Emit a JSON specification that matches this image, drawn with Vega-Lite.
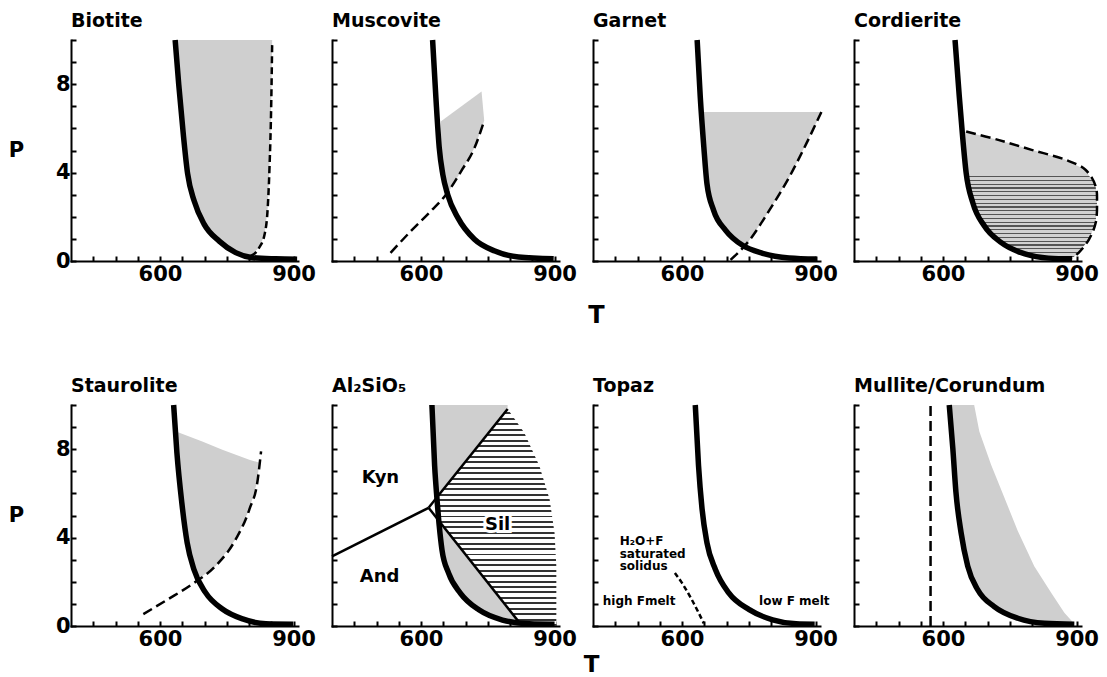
{
"$schema":"https://vega.github.io/schema/vega-lite/v6.json",
"padding":{"left":8,"top":12,"right":10,"bottom":0},
"datasets":{"d":[
{"p":"Bio","k":"sol","i":1,"T":634,"P":10},{"p":"Bio","k":"sol","i":2,"T":642,"P":8},{"p":"Bio","k":"sol","i":3,"T":652,"P":5.8},{"p":"Bio","k":"sol","i":4,"T":662,"P":3.95},{"p":"Bio","k":"sol","i":5,"T":677,"P":2.7},{"p":"Bio","k":"sol","i":6,"T":699,"P":1.67},{"p":"Bio","k":"sol","i":7,"T":733,"P":0.9},{"p":"Bio","k":"sol","i":8,"T":770,"P":0.38},{"p":"Bio","k":"sol","i":9,"T":808,"P":0.15},{"p":"Bio","k":"sol","i":10,"T":860,"P":0.1},{"p":"Bio","k":"sol","i":11,"T":908,"P":0.08},
{"p":"Bio","k":"dash","i":1,"T":804,"P":0.23},{"p":"Bio","k":"dash","i":2,"T":823,"P":0.61},{"p":"Bio","k":"dash","i":3,"T":835,"P":1.21},{"p":"Bio","k":"dash","i":4,"T":842,"P":2.42},{"p":"Bio","k":"dash","i":5,"T":846,"P":4.24},{"p":"Bio","k":"dash","i":6,"T":850,"P":7.27},{"p":"Bio","k":"dash","i":7,"T":852,"P":9.92},
{"p":"Bio","k":"stip","i":1,"T":636,"P":10},{"p":"Bio","k":"stip","i":2,"T":642,"P":8},{"p":"Bio","k":"stip","i":3,"T":652,"P":5.8},{"p":"Bio","k":"stip","i":4,"T":662,"P":3.95},{"p":"Bio","k":"stip","i":5,"T":677,"P":2.7},{"p":"Bio","k":"stip","i":6,"T":699,"P":1.67},{"p":"Bio","k":"stip","i":7,"T":733,"P":0.9},{"p":"Bio","k":"stip","i":8,"T":770,"P":0.38},{"p":"Bio","k":"stip","i":9,"T":800,"P":0.2},{"p":"Bio","k":"stip","i":10,"T":823,"P":0.61},{"p":"Bio","k":"stip","i":11,"T":835,"P":1.21},{"p":"Bio","k":"stip","i":12,"T":842,"P":2.42},{"p":"Bio","k":"stip","i":13,"T":846,"P":4.24},{"p":"Bio","k":"stip","i":14,"T":850,"P":7.27},{"p":"Bio","k":"stip","i":15,"T":852,"P":10},

{"p":"Mus","k":"sol","i":1,"T":626,"P":10},{"p":"Mus","k":"sol","i":2,"T":633.5,"P":7.37},{"p":"Mus","k":"sol","i":3,"T":641,"P":5.11},{"p":"Mus","k":"sol","i":4,"T":649,"P":3.91},{"p":"Mus","k":"sol","i":5,"T":660,"P":3.0},{"p":"Mus","k":"sol","i":6,"T":683,"P":1.95},{"p":"Mus","k":"sol","i":7,"T":720,"P":0.98},{"p":"Mus","k":"sol","i":8,"T":766,"P":0.45},{"p":"Mus","k":"sol","i":9,"T":819,"P":0.18},{"p":"Mus","k":"sol","i":10,"T":898,"P":0.1},
{"p":"Mus","k":"dash","i":1,"T":531.5,"P":0.37},{"p":"Mus","k":"dash","i":2,"T":577,"P":1.35},{"p":"Mus","k":"dash","i":3,"T":622,"P":2.26},{"p":"Mus","k":"dash","i":4,"T":656,"P":3.0},{"p":"Mus","k":"dash","i":5,"T":690,"P":4.06},{"p":"Mus","k":"dash","i":6,"T":720,"P":5.11},{"p":"Mus","k":"dash","i":7,"T":742,"P":6.35},
{"p":"Mus","k":"stip","i":1,"T":645,"P":6.32},{"p":"Mus","k":"stip","i":2,"T":736,"P":7.67},{"p":"Mus","k":"stip","i":3,"T":742,"P":6.35},{"p":"Mus","k":"stip","i":4,"T":720,"P":5.11},{"p":"Mus","k":"stip","i":5,"T":690,"P":4.06},{"p":"Mus","k":"stip","i":6,"T":658,"P":3.0},{"p":"Mus","k":"stip","i":7,"T":649,"P":3.91},{"p":"Mus","k":"stip","i":8,"T":643,"P":5.11},

{"p":"Gar","k":"sol","i":1,"T":634,"P":10},{"p":"Gar","k":"sol","i":2,"T":641,"P":7.42},{"p":"Gar","k":"sol","i":3,"T":649,"P":5.16},{"p":"Gar","k":"sol","i":4,"T":656,"P":3.5},{"p":"Gar","k":"sol","i":5,"T":671,"P":2.29},{"p":"Gar","k":"sol","i":6,"T":698,"P":1.39},{"p":"Gar","k":"sol","i":7,"T":736,"P":0.71},{"p":"Gar","k":"sol","i":8,"T":781,"P":0.35},{"p":"Gar","k":"sol","i":9,"T":841,"P":0.14},{"p":"Gar","k":"sol","i":10,"T":902,"P":0.09},
{"p":"Gar","k":"dash","i":1,"T":709,"P":0.05},{"p":"Gar","k":"dash","i":2,"T":751,"P":0.93},{"p":"Gar","k":"dash","i":3,"T":796,"P":2.29},{"p":"Gar","k":"dash","i":4,"T":841,"P":3.8},{"p":"Gar","k":"dash","i":5,"T":879,"P":5.3},{"p":"Gar","k":"dash","i":6,"T":913,"P":6.74},
{"p":"Gar","k":"stip","i":1,"T":645,"P":6.74},{"p":"Gar","k":"stip","i":2,"T":649,"P":5.16},{"p":"Gar","k":"stip","i":3,"T":656,"P":3.5},{"p":"Gar","k":"stip","i":4,"T":671,"P":2.29},{"p":"Gar","k":"stip","i":5,"T":698,"P":1.39},{"p":"Gar","k":"stip","i":6,"T":745,"P":0.72},{"p":"Gar","k":"stip","i":7,"T":751,"P":0.93},{"p":"Gar","k":"stip","i":8,"T":796,"P":2.29},{"p":"Gar","k":"stip","i":9,"T":841,"P":3.8},{"p":"Gar","k":"stip","i":10,"T":879,"P":5.3},{"p":"Gar","k":"stip","i":11,"T":913,"P":6.74},

{"p":"Cor","k":"sol","i":1,"T":627,"P":10},{"p":"Cor","k":"sol","i":2,"T":636.6,"P":7.43},{"p":"Cor","k":"sol","i":3,"T":644,"P":5.63},{"p":"Cor","k":"sol","i":4,"T":652,"P":3.98},{"p":"Cor","k":"sol","i":5,"T":667,"P":2.63},{"p":"Cor","k":"sol","i":6,"T":693,"P":1.58},{"p":"Cor","k":"sol","i":7,"T":731,"P":0.83},{"p":"Cor","k":"sol","i":8,"T":784,"P":0.32},{"p":"Cor","k":"sol","i":9,"T":837,"P":0.13},{"p":"Cor","k":"sol","i":10,"T":890,"P":0.1},
{"p":"Cor","k":"dash","i":1,"T":652,"P":5.86},{"p":"Cor","k":"dash","i":2,"T":724,"P":5.48},{"p":"Cor","k":"dash","i":3,"T":799,"P":5.03},{"p":"Cor","k":"dash","i":4,"T":875,"P":4.58},{"p":"Cor","k":"dash","i":5,"T":920,"P":4.13},{"p":"Cor","k":"dash","i":6,"T":943,"P":3.38},{"p":"Cor","k":"dash","i":7,"T":946,"P":2.63},{"p":"Cor","k":"dash","i":8,"T":943,"P":1.73},{"p":"Cor","k":"dash","i":9,"T":928,"P":0.98},{"p":"Cor","k":"dash","i":10,"T":905,"P":0.38},{"p":"Cor","k":"dash","i":11,"T":890,"P":0.12},
{"p":"Cor","k":"grad","i":1,"T":650,"P":5.86},{"p":"Cor","k":"grad","i":2,"T":724,"P":5.48},{"p":"Cor","k":"grad","i":3,"T":799,"P":5.03},{"p":"Cor","k":"grad","i":4,"T":875,"P":4.58},{"p":"Cor","k":"grad","i":5,"T":920,"P":4.13},{"p":"Cor","k":"grad","i":6,"T":943,"P":3.38},{"p":"Cor","k":"grad","i":7,"T":946,"P":2.63},{"p":"Cor","k":"grad","i":8,"T":943,"P":1.73},{"p":"Cor","k":"grad","i":9,"T":928,"P":0.98},{"p":"Cor","k":"grad","i":10,"T":905,"P":0.38},{"p":"Cor","k":"grad","i":11,"T":890,"P":0.12},{"p":"Cor","k":"grad","i":12,"T":837,"P":0.13},{"p":"Cor","k":"grad","i":13,"T":784,"P":0.32},{"p":"Cor","k":"grad","i":14,"T":731,"P":0.83},{"p":"Cor","k":"grad","i":15,"T":693,"P":1.58},{"p":"Cor","k":"grad","i":16,"T":667,"P":2.63},{"p":"Cor","k":"grad","i":17,"T":652,"P":3.98},{"p":"Cor","k":"grad","i":18,"T":646,"P":5.0},

{"p":"Sta","k":"sol","i":1,"T":630.6,"P":10},{"p":"Sta","k":"sol","i":2,"T":638,"P":7.82},{"p":"Sta","k":"sol","i":3,"T":649,"P":5.57},{"p":"Sta","k":"sol","i":4,"T":661,"P":3.77},{"p":"Sta","k":"sol","i":5,"T":676,"P":2.57},{"p":"Sta","k":"sol","i":6,"T":702,"P":1.52},{"p":"Sta","k":"sol","i":7,"T":740,"P":0.77},{"p":"Sta","k":"sol","i":8,"T":785.5,"P":0.32},{"p":"Sta","k":"sol","i":9,"T":838,"P":0.1},{"p":"Sta","k":"sol","i":10,"T":899,"P":0.08},
{"p":"Sta","k":"dash","i":1,"T":562.5,"P":0.54},{"p":"Sta","k":"dash","i":2,"T":619,"P":1.22},{"p":"Sta","k":"dash","i":3,"T":672,"P":1.89},{"p":"Sta","k":"dash","i":4,"T":725,"P":2.72},{"p":"Sta","k":"dash","i":5,"T":770,"P":3.92},{"p":"Sta","k":"dash","i":6,"T":800.6,"P":5.27},{"p":"Sta","k":"dash","i":7,"T":819.5,"P":6.62},{"p":"Sta","k":"dash","i":8,"T":827,"P":7.9},
{"p":"Sta","k":"stip","i":1,"T":636,"P":8.8},{"p":"Sta","k":"stip","i":2,"T":695,"P":8.35},{"p":"Sta","k":"stip","i":3,"T":740,"P":7.97},{"p":"Sta","k":"stip","i":4,"T":800.6,"P":7.52},{"p":"Sta","k":"stip","i":5,"T":822,"P":7.4},{"p":"Sta","k":"stip","i":6,"T":819.5,"P":6.62},{"p":"Sta","k":"stip","i":7,"T":800.6,"P":5.27},{"p":"Sta","k":"stip","i":8,"T":770,"P":3.92},{"p":"Sta","k":"stip","i":9,"T":725,"P":2.72},{"p":"Sta","k":"stip","i":10,"T":691,"P":2.19},{"p":"Sta","k":"stip","i":11,"T":676,"P":2.57},{"p":"Sta","k":"stip","i":12,"T":661,"P":3.77},{"p":"Sta","k":"stip","i":13,"T":649,"P":5.57},{"p":"Sta","k":"stip","i":14,"T":638,"P":7.82},

{"p":"Al","k":"sol","i":1,"T":624.5,"P":10},{"p":"Al","k":"sol","i":2,"T":630.6,"P":7.24},{"p":"Al","k":"sol","i":3,"T":636,"P":5.72},{"p":"Al","k":"sol","i":4,"T":641,"P":4.52},{"p":"Al","k":"sol","i":5,"T":647,"P":3.46},{"p":"Al","k":"sol","i":6,"T":662,"P":2.39},{"p":"Al","k":"sol","i":7,"T":688.7,"P":1.48},{"p":"Al","k":"sol","i":8,"T":730,"P":0.73},{"p":"Al","k":"sol","i":9,"T":783,"P":0.27},{"p":"Al","k":"sol","i":10,"T":843.7,"P":0.1},{"p":"Al","k":"sol","i":11,"T":900,"P":0.08},
{"p":"Al","k":"line","g":1,"i":1,"T":400,"P":3.15},{"p":"Al","k":"line","g":1,"i":2,"T":617,"P":5.35},{"p":"Al","k":"line","g":2,"i":1,"T":617,"P":5.35},{"p":"Al","k":"line","g":2,"i":2,"T":794.6,"P":9.82},{"p":"Al","k":"line","g":3,"i":1,"T":617,"P":5.35},{"p":"Al","k":"line","g":3,"i":2,"T":825,"P":0.05},
{"p":"Al","k":"stip","g":1,"i":1,"T":626,"P":10},{"p":"Al","k":"stip","g":1,"i":2,"T":630.6,"P":7.24},{"p":"Al","k":"stip","g":1,"i":3,"T":636,"P":5.83},{"p":"Al","k":"stip","g":1,"i":4,"T":794.6,"P":9.82},{"p":"Al","k":"stip","g":1,"i":5,"T":794.6,"P":10},
{"p":"Al","k":"stip","g":2,"i":1,"T":643,"P":4.7},{"p":"Al","k":"stip","g":2,"i":2,"T":647,"P":3.46},{"p":"Al","k":"stip","g":2,"i":3,"T":662,"P":2.39},{"p":"Al","k":"stip","g":2,"i":4,"T":688.7,"P":1.48},{"p":"Al","k":"stip","g":2,"i":5,"T":730,"P":0.73},{"p":"Al","k":"stip","g":2,"i":6,"T":783,"P":0.27},{"p":"Al","k":"stip","g":2,"i":7,"T":822,"P":0.1},
{"p":"Al","k":"hatch","i":1,"T":794.6,"P":9.82},{"p":"Al","k":"hatch","i":2,"T":636,"P":5.83},{"p":"Al","k":"hatch","i":3,"T":643,"P":4.69},{"p":"Al","k":"hatch","i":4,"T":825,"P":0.05},{"p":"Al","k":"hatch","i":5,"T":825,"P":0},{"p":"Al","k":"hatch","i":6,"T":904,"P":0},{"p":"Al","k":"hatch","i":7,"T":904,"P":1.18},{"p":"Al","k":"hatch","i":8,"T":904,"P":2.7},{"p":"Al","k":"hatch","i":9,"T":900,"P":4.21},{"p":"Al","k":"hatch","i":10,"T":889,"P":5.72},{"p":"Al","k":"hatch","i":11,"T":866,"P":7.24},{"p":"Al","k":"hatch","i":12,"T":832,"P":8.75},
{"p":"Al","k":"lab","t":"Kyn","T":509,"P":6.48},{"p":"Al","k":"lab","t":"And","T":507,"P":2.01},{"p":"Al","k":"lab","t":"Sil","T":772,"P":4.36},

{"p":"Top","k":"sol","i":1,"T":629.8,"P":10},{"p":"Top","k":"sol","i":2,"T":637,"P":7.28},{"p":"Top","k":"sol","i":3,"T":645,"P":5.3},{"p":"Top","k":"sol","i":4,"T":656,"P":3.77},{"p":"Top","k":"sol","i":5,"T":675,"P":2.56},{"p":"Top","k":"sol","i":6,"T":705,"P":1.5},{"p":"Top","k":"sol","i":7,"T":751,"P":0.74},{"p":"Top","k":"sol","i":8,"T":803.6,"P":0.28},{"p":"Top","k":"sol","i":9,"T":856.5,"P":0.1},{"p":"Top","k":"sol","i":10,"T":898,"P":0.08},
{"p":"Top","k":"dash","i":1,"T":584,"P":2.4},{"p":"Top","k":"dash","i":2,"T":599.5,"P":1.96},{"p":"Top","k":"dash","i":3,"T":622,"P":1.19},{"p":"Top","k":"dash","i":4,"T":649,"P":0.12},
{"p":"Top","k":"lab","t":"H₂O+F","T":460,"P":3.66},{"p":"Top","k":"lab","t":"saturated","T":460,"P":3.09},{"p":"Top","k":"lab","t":"solidus","T":460,"P":2.52},{"p":"Top","k":"lab","t":"high Fmelt","T":422,"P":0.96},{"p":"Top","k":"lab","t":"low F melt","T":773,"P":0.96},

{"p":"Mul","k":"sol","i":1,"T":614,"P":10},{"p":"Mul","k":"sol","i":2,"T":622,"P":8.04},{"p":"Mul","k":"sol","i":3,"T":629,"P":6.06},{"p":"Mul","k":"sol","i":4,"T":640.5,"P":4.23},{"p":"Mul","k":"sol","i":5,"T":655.5,"P":2.71},{"p":"Mul","k":"sol","i":6,"T":678,"P":1.64},{"p":"Mul","k":"sol","i":7,"T":715,"P":0.88},{"p":"Mul","k":"sol","i":8,"T":768,"P":0.35},{"p":"Mul","k":"sol","i":9,"T":828,"P":0.12},{"p":"Mul","k":"sol","i":10,"T":895,"P":0.08},
{"p":"Mul","k":"dash","i":1,"T":572,"P":0},{"p":"Mul","k":"dash","i":2,"T":572,"P":10.1},
{"p":"Mul","k":"stip","i":1,"T":620,"P":10},{"p":"Mul","k":"stip","i":2,"T":622,"P":8.04},{"p":"Mul","k":"stip","i":3,"T":629,"P":6.06},{"p":"Mul","k":"stip","i":4,"T":640.5,"P":4.23},{"p":"Mul","k":"stip","i":5,"T":655.5,"P":2.71},{"p":"Mul","k":"stip","i":6,"T":678,"P":1.64},{"p":"Mul","k":"stip","i":7,"T":715,"P":0.88},{"p":"Mul","k":"stip","i":8,"T":768,"P":0.35},{"p":"Mul","k":"stip","i":9,"T":828,"P":0.12},{"p":"Mul","k":"stip","i":10,"T":895,"P":0.1},{"p":"Mul","k":"stip","i":11,"T":872.6,"P":0.6},{"p":"Mul","k":"stip","i":12,"T":843,"P":1.5},{"p":"Mul","k":"stip","i":13,"T":805,"P":2.7},{"p":"Mul","k":"stip","i":14,"T":768,"P":4.3},{"p":"Mul","k":"stip","i":15,"T":738,"P":5.8},{"p":"Mul","k":"stip","i":16,"T":708,"P":7.3},{"p":"Mul","k":"stip","i":17,"T":681.6,"P":8.8},{"p":"Mul","k":"stip","i":18,"T":670,"P":10}
]},
"columns":4,
"spacing":{"row":144,"column":34},
"bounds":"flush",
"concat":[
{"width":227,"height":221,"title":{"text":"Biotite"},"data":{"name":"d"},"transform":[{"filter":"datum.p=='Bio'"}],
 "encoding":{"x":{"field":"T","type":"quantitative","scale":{"domain":[400,910],"nice":false,"zero":false},"axis":{"values":[450,500,550,600,650,700,750,800,850,900],"labelExpr":"datum.value==600||datum.value==900?datum.label:''","title":null}},
  "y":{"field":"P","type":"quantitative","scale":{"domain":[0,10],"nice":false},"axis":{"values":[0,1,2,3,4,5,6,7,8,9,10],"labelExpr":"datum.value%4==0?datum.label:''","title":"P","titleAngle":0,"titleX":-55,"titleY":110.5,"titleAlign":"center","titleBaseline":"middle","titleFontSize":21}}},
 "layer":[
  {"transform":[{"filter":"datum.k=='stip'"}],"mark":{"type":"line","fill":"#cfcfcf","strokeOpacity":0},"encoding":{"order":{"field":"i","type":"quantitative"}}},
  {"transform":[{"filter":"datum.k=='dash'"}],"mark":{"type":"line","color":"black","strokeWidth":2.5,"strokeDash":[7,4],"interpolate":"monotone"},"encoding":{"order":{"field":"i","type":"quantitative"}}},
  {"transform":[{"filter":"datum.k=='sol'"}],"mark":{"type":"line","color":"black","strokeWidth":5.5,"interpolate":"monotone"},"encoding":{"order":{"field":"i","type":"quantitative"}}}
 ]},
{"width":227,"height":221,"title":{"text":"Muscovite"},"data":{"name":"d"},"transform":[{"filter":"datum.p=='Mus'"}],
 "encoding":{"x":{"field":"T","type":"quantitative","scale":{"domain":[400,910],"nice":false,"zero":false},"axis":{"values":[450,500,550,600,650,700,750,800,850,900],"labelExpr":"datum.value==600||datum.value==900?datum.label:''","title":null}},
  "y":{"field":"P","type":"quantitative","scale":{"domain":[0,10],"nice":false},"axis":{"values":[0,1,2,3,4,5,6,7,8,9,10],"labels":false,"title":null}}},
 "layer":[
  {"transform":[{"filter":"datum.k=='stip'"}],"mark":{"type":"line","fill":"#cfcfcf","strokeOpacity":0},"encoding":{"order":{"field":"i","type":"quantitative"}}},
  {"transform":[{"filter":"datum.k=='dash'"}],"mark":{"type":"line","color":"black","strokeWidth":2.5,"strokeDash":[10,5],"interpolate":"monotone"},"encoding":{"order":{"field":"i","type":"quantitative"}}},
  {"transform":[{"filter":"datum.k=='sol'"}],"mark":{"type":"line","color":"black","strokeWidth":5.5,"interpolate":"monotone"},"encoding":{"order":{"field":"i","type":"quantitative"}}}
 ]},
{"width":227,"height":221,"title":{"text":"Garnet"},"data":{"name":"d"},"transform":[{"filter":"datum.p=='Gar'"}],
 "encoding":{"x":{"field":"T","type":"quantitative","scale":{"domain":[400,910],"nice":false,"zero":false},"axis":{"values":[450,500,550,600,650,700,750,800,850,900],"labelExpr":"datum.value==600||datum.value==900?datum.label:''","title":"T","titleX":3,"titleY":61,"titleAlign":"center","titleBaseline":"alphabetic","titleFontSize":24}},
  "y":{"field":"P","type":"quantitative","scale":{"domain":[0,10],"nice":false},"axis":{"values":[0,1,2,3,4,5,6,7,8,9,10],"labels":false,"title":null}}},
 "layer":[
  {"transform":[{"filter":"datum.k=='stip'"}],"mark":{"type":"line","fill":"#cfcfcf","strokeOpacity":0},"encoding":{"order":{"field":"i","type":"quantitative"}}},
  {"transform":[{"filter":"datum.k=='dash'"}],"mark":{"type":"line","color":"black","strokeWidth":2.5,"strokeDash":[10,5],"interpolate":"monotone"},"encoding":{"order":{"field":"i","type":"quantitative"}}},
  {"transform":[{"filter":"datum.k=='sol'"}],"mark":{"type":"line","color":"black","strokeWidth":5.5,"interpolate":"monotone"},"encoding":{"order":{"field":"i","type":"quantitative"}}}
 ]},
{"width":227,"height":221,"title":{"text":"Cordierite"},"data":{"name":"d"},"transform":[{"filter":"datum.p=='Cor'"}],
 "encoding":{"x":{"field":"T","type":"quantitative","scale":{"domain":[400,910],"nice":false,"zero":false},"axis":{"values":[450,500,550,600,650,700,750,800,850,900],"labelExpr":"datum.value==600||datum.value==900?datum.label:''","title":null}},
  "y":{"field":"P","type":"quantitative","scale":{"domain":[0,10],"nice":false},"axis":{"values":[0,1,2,3,4,5,6,7,8,9,10],"labels":false,"title":null}}},
 "layer":[
  {"transform":[{"filter":"datum.k=='grad'"}],"mark":{"type":"line","strokeOpacity":0,"interpolate":"linear","fill":{"gradient":"linear","x1":0,"y1":0,"x2":0,"y2":1,"stops":[
   {"offset":0,"color":"#d2d2d2"},{"offset":0.35,"color":"#d2d2d2"},{"offset":0.35,"color":"#555"},{"offset":0.36,"color":"#555"},{"offset":0.36,"color":"#d2d2d2"},
   {"offset":0.38,"color":"#d2d2d2"},{"offset":0.38,"color":"#555"},{"offset":0.39,"color":"#555"},{"offset":0.39,"color":"#d2d2d2"},
   {"offset":0.41,"color":"#d2d2d2"},{"offset":0.41,"color":"#555"},{"offset":0.42,"color":"#555"},{"offset":0.42,"color":"#d2d2d2"},
   {"offset":0.44,"color":"#d2d2d2"},{"offset":0.44,"color":"#555"},{"offset":0.45,"color":"#555"},{"offset":0.45,"color":"#d2d2d2"},
   {"offset":0.47,"color":"#d2d2d2"},{"offset":0.47,"color":"#555"},{"offset":0.48,"color":"#555"},{"offset":0.48,"color":"#d2d2d2"},
   {"offset":0.50,"color":"#d2d2d2"},{"offset":0.50,"color":"#555"},{"offset":0.51,"color":"#555"},{"offset":0.51,"color":"#d2d2d2"},
   {"offset":0.53,"color":"#d2d2d2"},{"offset":0.53,"color":"#555"},{"offset":0.54,"color":"#555"},{"offset":0.54,"color":"#d2d2d2"},
   {"offset":0.56,"color":"#d2d2d2"},{"offset":0.56,"color":"#555"},{"offset":0.57,"color":"#555"},{"offset":0.57,"color":"#d2d2d2"},
   {"offset":0.59,"color":"#d2d2d2"},{"offset":0.59,"color":"#555"},{"offset":0.60,"color":"#555"},{"offset":0.60,"color":"#d2d2d2"},
   {"offset":0.62,"color":"#d2d2d2"},{"offset":0.62,"color":"#555"},{"offset":0.63,"color":"#555"},{"offset":0.63,"color":"#d2d2d2"},
   {"offset":0.65,"color":"#d2d2d2"},{"offset":0.65,"color":"#555"},{"offset":0.66,"color":"#555"},{"offset":0.66,"color":"#d2d2d2"},
   {"offset":0.68,"color":"#d2d2d2"},{"offset":0.68,"color":"#555"},{"offset":0.69,"color":"#555"},{"offset":0.69,"color":"#d2d2d2"},
   {"offset":0.71,"color":"#d2d2d2"},{"offset":0.71,"color":"#555"},{"offset":0.72,"color":"#555"},{"offset":0.72,"color":"#d2d2d2"},
   {"offset":0.74,"color":"#d2d2d2"},{"offset":0.74,"color":"#555"},{"offset":0.75,"color":"#555"},{"offset":0.75,"color":"#d2d2d2"},
   {"offset":0.77,"color":"#d2d2d2"},{"offset":0.77,"color":"#555"},{"offset":0.78,"color":"#555"},{"offset":0.78,"color":"#d2d2d2"},
   {"offset":0.80,"color":"#d2d2d2"},{"offset":0.80,"color":"#555"},{"offset":0.81,"color":"#555"},{"offset":0.81,"color":"#d2d2d2"},
   {"offset":0.83,"color":"#d2d2d2"},{"offset":0.83,"color":"#555"},{"offset":0.84,"color":"#555"},{"offset":0.84,"color":"#d2d2d2"},
   {"offset":0.86,"color":"#d2d2d2"},{"offset":0.86,"color":"#555"},{"offset":0.87,"color":"#555"},{"offset":0.87,"color":"#d2d2d2"},
   {"offset":0.89,"color":"#d2d2d2"},{"offset":0.89,"color":"#555"},{"offset":0.90,"color":"#555"},{"offset":0.90,"color":"#d2d2d2"},
   {"offset":0.92,"color":"#d2d2d2"},{"offset":0.92,"color":"#555"},{"offset":0.93,"color":"#555"},{"offset":0.93,"color":"#d2d2d2"},
   {"offset":0.95,"color":"#d2d2d2"},{"offset":0.95,"color":"#555"},{"offset":0.96,"color":"#555"},{"offset":0.96,"color":"#d2d2d2"},
   {"offset":0.98,"color":"#d2d2d2"},{"offset":0.98,"color":"#555"},{"offset":0.99,"color":"#555"},{"offset":0.99,"color":"#d2d2d2"},{"offset":1,"color":"#d2d2d2"}]}},"encoding":{"order":{"field":"i","type":"quantitative"}}},
  {"transform":[{"filter":"datum.k=='dash'"}],"mark":{"type":"line","color":"black","strokeWidth":2.5,"strokeDash":[10,5],"interpolate":"catmull-rom"},"encoding":{"order":{"field":"i","type":"quantitative"}}},
  {"transform":[{"filter":"datum.k=='sol'"}],"mark":{"type":"line","color":"black","strokeWidth":5.5,"interpolate":"monotone"},"encoding":{"order":{"field":"i","type":"quantitative"}}}
 ]},
{"width":227,"height":221,"title":{"text":"Staurolite"},"data":{"name":"d"},"transform":[{"filter":"datum.p=='Sta'"}],
 "encoding":{"x":{"field":"T","type":"quantitative","scale":{"domain":[400,910],"nice":false,"zero":false},"axis":{"values":[450,500,550,600,650,700,750,800,850,900],"labelExpr":"datum.value==600||datum.value==900?datum.label:''","title":null}},
  "y":{"field":"P","type":"quantitative","scale":{"domain":[0,10],"nice":false},"axis":{"values":[0,1,2,3,4,5,6,7,8,9,10],"labelExpr":"datum.value%4==0?datum.label:''","title":"P","titleAngle":0,"titleX":-55,"titleY":110.5,"titleAlign":"center","titleBaseline":"middle","titleFontSize":21}}},
 "layer":[
  {"transform":[{"filter":"datum.k=='stip'"}],"mark":{"type":"line","fill":"#cfcfcf","strokeOpacity":0},"encoding":{"order":{"field":"i","type":"quantitative"}}},
  {"transform":[{"filter":"datum.k=='dash'"}],"mark":{"type":"line","color":"black","strokeWidth":2.5,"strokeDash":[10,5],"interpolate":"monotone"},"encoding":{"order":{"field":"i","type":"quantitative"}}},
  {"transform":[{"filter":"datum.k=='sol'"}],"mark":{"type":"line","color":"black","strokeWidth":5.5,"interpolate":"monotone"},"encoding":{"order":{"field":"i","type":"quantitative"}}}
 ]},
{"width":227,"height":221,"title":{"text":"Al₂SiO₅"},"data":{"name":"d"},"transform":[{"filter":"datum.p=='Al'"}],
 "encoding":{"x":{"field":"T","type":"quantitative","scale":{"domain":[400,910],"nice":false,"zero":false},"axis":{"values":[450,500,550,600,650,700,750,800,850,900],"labelExpr":"datum.value==600||datum.value==900?datum.label:''","title":null}},
  "y":{"field":"P","type":"quantitative","scale":{"domain":[0,10],"nice":false},"axis":{"values":[0,1,2,3,4,5,6,7,8,9,10],"labels":false,"title":null}}},
 "layer":[
  {"transform":[{"filter":"datum.k=='hatch'"}],"mark":{"type":"line","strokeOpacity":0,"fill":{"gradient":"linear","x1":0,"y1":0,"x2":0,"y2":1,"stops":[
   {"offset":0,"color":"#fff"},
   {"offset":0.016,"color":"#fff"},{"offset":0.016,"color":"#333"},{"offset":0.025,"color":"#333"},{"offset":0.025,"color":"#fff"},
   {"offset":0.041,"color":"#fff"},{"offset":0.041,"color":"#333"},{"offset":0.05,"color":"#333"},{"offset":0.05,"color":"#fff"},
   {"offset":0.066,"color":"#fff"},{"offset":0.066,"color":"#333"},{"offset":0.075,"color":"#333"},{"offset":0.075,"color":"#fff"},
   {"offset":0.091,"color":"#fff"},{"offset":0.091,"color":"#333"},{"offset":0.1,"color":"#333"},{"offset":0.1,"color":"#fff"},
   {"offset":0.116,"color":"#fff"},{"offset":0.116,"color":"#333"},{"offset":0.125,"color":"#333"},{"offset":0.125,"color":"#fff"},
   {"offset":0.141,"color":"#fff"},{"offset":0.141,"color":"#333"},{"offset":0.15,"color":"#333"},{"offset":0.15,"color":"#fff"},
   {"offset":0.166,"color":"#fff"},{"offset":0.166,"color":"#333"},{"offset":0.175,"color":"#333"},{"offset":0.175,"color":"#fff"},
   {"offset":0.191,"color":"#fff"},{"offset":0.191,"color":"#333"},{"offset":0.2,"color":"#333"},{"offset":0.2,"color":"#fff"},
   {"offset":0.216,"color":"#fff"},{"offset":0.216,"color":"#333"},{"offset":0.225,"color":"#333"},{"offset":0.225,"color":"#fff"},
   {"offset":0.241,"color":"#fff"},{"offset":0.241,"color":"#333"},{"offset":0.25,"color":"#333"},{"offset":0.25,"color":"#fff"},
   {"offset":0.266,"color":"#fff"},{"offset":0.266,"color":"#333"},{"offset":0.275,"color":"#333"},{"offset":0.275,"color":"#fff"},
   {"offset":0.291,"color":"#fff"},{"offset":0.291,"color":"#333"},{"offset":0.3,"color":"#333"},{"offset":0.3,"color":"#fff"},
   {"offset":0.316,"color":"#fff"},{"offset":0.316,"color":"#333"},{"offset":0.325,"color":"#333"},{"offset":0.325,"color":"#fff"},
   {"offset":0.341,"color":"#fff"},{"offset":0.341,"color":"#333"},{"offset":0.35,"color":"#333"},{"offset":0.35,"color":"#fff"},
   {"offset":0.366,"color":"#fff"},{"offset":0.366,"color":"#333"},{"offset":0.375,"color":"#333"},{"offset":0.375,"color":"#fff"},
   {"offset":0.391,"color":"#fff"},{"offset":0.391,"color":"#333"},{"offset":0.4,"color":"#333"},{"offset":0.4,"color":"#fff"},
   {"offset":0.416,"color":"#fff"},{"offset":0.416,"color":"#333"},{"offset":0.425,"color":"#333"},{"offset":0.425,"color":"#fff"},
   {"offset":0.441,"color":"#fff"},{"offset":0.441,"color":"#333"},{"offset":0.45,"color":"#333"},{"offset":0.45,"color":"#fff"},
   {"offset":0.466,"color":"#fff"},{"offset":0.466,"color":"#333"},{"offset":0.475,"color":"#333"},{"offset":0.475,"color":"#fff"},
   {"offset":0.491,"color":"#fff"},{"offset":0.491,"color":"#333"},{"offset":0.5,"color":"#333"},{"offset":0.5,"color":"#fff"},
   {"offset":0.516,"color":"#fff"},{"offset":0.516,"color":"#333"},{"offset":0.525,"color":"#333"},{"offset":0.525,"color":"#fff"},
   {"offset":0.541,"color":"#fff"},{"offset":0.541,"color":"#333"},{"offset":0.55,"color":"#333"},{"offset":0.55,"color":"#fff"},
   {"offset":0.566,"color":"#fff"},{"offset":0.566,"color":"#333"},{"offset":0.575,"color":"#333"},{"offset":0.575,"color":"#fff"},
   {"offset":0.591,"color":"#fff"},{"offset":0.591,"color":"#333"},{"offset":0.6,"color":"#333"},{"offset":0.6,"color":"#fff"},
   {"offset":0.616,"color":"#fff"},{"offset":0.616,"color":"#333"},{"offset":0.625,"color":"#333"},{"offset":0.625,"color":"#fff"},
   {"offset":0.641,"color":"#fff"},{"offset":0.641,"color":"#333"},{"offset":0.65,"color":"#333"},{"offset":0.65,"color":"#fff"},
   {"offset":0.666,"color":"#fff"},{"offset":0.666,"color":"#333"},{"offset":0.675,"color":"#333"},{"offset":0.675,"color":"#fff"},
   {"offset":0.691,"color":"#fff"},{"offset":0.691,"color":"#333"},{"offset":0.7,"color":"#333"},{"offset":0.7,"color":"#fff"},
   {"offset":0.716,"color":"#fff"},{"offset":0.716,"color":"#333"},{"offset":0.725,"color":"#333"},{"offset":0.725,"color":"#fff"},
   {"offset":0.741,"color":"#fff"},{"offset":0.741,"color":"#333"},{"offset":0.75,"color":"#333"},{"offset":0.75,"color":"#fff"},
   {"offset":0.766,"color":"#fff"},{"offset":0.766,"color":"#333"},{"offset":0.775,"color":"#333"},{"offset":0.775,"color":"#fff"},
   {"offset":0.791,"color":"#fff"},{"offset":0.791,"color":"#333"},{"offset":0.8,"color":"#333"},{"offset":0.8,"color":"#fff"},
   {"offset":0.816,"color":"#fff"},{"offset":0.816,"color":"#333"},{"offset":0.825,"color":"#333"},{"offset":0.825,"color":"#fff"},
   {"offset":0.841,"color":"#fff"},{"offset":0.841,"color":"#333"},{"offset":0.85,"color":"#333"},{"offset":0.85,"color":"#fff"},
   {"offset":0.866,"color":"#fff"},{"offset":0.866,"color":"#333"},{"offset":0.875,"color":"#333"},{"offset":0.875,"color":"#fff"},
   {"offset":0.891,"color":"#fff"},{"offset":0.891,"color":"#333"},{"offset":0.9,"color":"#333"},{"offset":0.9,"color":"#fff"},
   {"offset":0.916,"color":"#fff"},{"offset":0.916,"color":"#333"},{"offset":0.925,"color":"#333"},{"offset":0.925,"color":"#fff"},
   {"offset":0.941,"color":"#fff"},{"offset":0.941,"color":"#333"},{"offset":0.95,"color":"#333"},{"offset":0.95,"color":"#fff"},
   {"offset":0.966,"color":"#fff"},{"offset":0.966,"color":"#333"},{"offset":0.975,"color":"#333"},{"offset":0.975,"color":"#fff"},
   {"offset":0.991,"color":"#fff"},{"offset":0.991,"color":"#333"},{"offset":1,"color":"#333"}]}},"encoding":{"order":{"field":"i","type":"quantitative"}}},
  {"transform":[{"filter":"datum.k=='stip'"}],"mark":{"type":"line","fill":"#cfcfcf","strokeOpacity":0},"encoding":{"detail":{"field":"g"},"order":{"field":"i","type":"quantitative"}}},
  {"transform":[{"filter":"datum.k=='line'"}],"mark":{"type":"line","color":"black","strokeWidth":2.5},"encoding":{"detail":{"field":"g"},"order":{"field":"i","type":"quantitative"}}},
  {"transform":[{"filter":"datum.k=='sol'"}],"mark":{"type":"line","color":"black","strokeWidth":5.5,"interpolate":"monotone"},"encoding":{"order":{"field":"i","type":"quantitative"}}},
  {"transform":[{"filter":"datum.k=='lab'"}],"mark":{"type":"text","font":"DejaVu Sans","fontWeight":"bold","fontSize":18,"align":"center","baseline":"alphabetic","stroke":"white","strokeWidth":6,"fill":"white"},"encoding":{"text":{"field":"t"}}},
  {"transform":[{"filter":"datum.k=='lab'"}],"mark":{"type":"text","font":"DejaVu Sans","fontWeight":"bold","fontSize":18,"align":"center","baseline":"alphabetic","color":"black"},"encoding":{"text":{"field":"t"}}}
 ]},
{"width":227,"height":221,"title":{"text":"Topaz"},"data":{"name":"d"},"transform":[{"filter":"datum.p=='Top'"}],
 "encoding":{"x":{"field":"T","type":"quantitative","scale":{"domain":[400,910],"nice":false,"zero":false},"axis":{"values":[450,500,550,600,650,700,750,800,850,900],"labelExpr":"datum.value==600||datum.value==900?datum.label:''","title":"T","titleX":-2,"titleY":45,"titleAlign":"center","titleBaseline":"alphabetic","titleFontSize":23}},
  "y":{"field":"P","type":"quantitative","scale":{"domain":[0,10],"nice":false},"axis":{"values":[0,1,2,3,4,5,6,7,8,9,10],"labels":false,"title":null}}},
 "layer":[
  {"transform":[{"filter":"datum.k=='dash'"}],"mark":{"type":"line","color":"black","strokeWidth":2.5,"strokeDash":[5,3],"interpolate":"monotone"},"encoding":{"order":{"field":"i","type":"quantitative"}}},
  {"transform":[{"filter":"datum.k=='sol'"}],"mark":{"type":"line","color":"black","strokeWidth":5.5,"interpolate":"monotone"},"encoding":{"order":{"field":"i","type":"quantitative"}}},
  {"transform":[{"filter":"datum.k=='lab'"}],"mark":{"type":"text","font":"DejaVu Sans","fontWeight":"bold","fontSize":12,"align":"left","baseline":"alphabetic","color":"black"},"encoding":{"text":{"field":"t"}}}
 ]},
{"width":227,"height":221,"title":{"text":"Mullite/Corundum"},"data":{"name":"d"},"transform":[{"filter":"datum.p=='Mul'"}],
 "encoding":{"x":{"field":"T","type":"quantitative","scale":{"domain":[400,910],"nice":false,"zero":false},"axis":{"values":[450,500,550,600,650,700,750,800,850,900],"labelExpr":"datum.value==600||datum.value==900?datum.label:''","title":null}},
  "y":{"field":"P","type":"quantitative","scale":{"domain":[0,10],"nice":false},"axis":{"values":[0,1,2,3,4,5,6,7,8,9,10],"labels":false,"title":null}}},
 "layer":[
  {"transform":[{"filter":"datum.k=='stip'"}],"mark":{"type":"line","fill":"#cfcfcf","strokeOpacity":0},"encoding":{"order":{"field":"i","type":"quantitative"}}},
  {"transform":[{"filter":"datum.k=='dash'"}],"mark":{"type":"line","color":"black","strokeWidth":2.5,"strokeDash":[10,5]},"encoding":{"order":{"field":"i","type":"quantitative"}}},
  {"transform":[{"filter":"datum.k=='sol'"}],"mark":{"type":"line","color":"black","strokeWidth":5.5,"interpolate":"monotone"},"encoding":{"order":{"field":"i","type":"quantitative"}}}
 ]}
],
"config":{
 "view":{"stroke":null},
 "background":"white",
 "font":"DejaVu Sans",
 "axis":{"domainColor":"black","domainWidth":2,"domainCap":"square","tickColor":"black","tickWidth":2,"tickSize":-5,"grid":false,"labelFont":"DejaVu Sans","labelFontWeight":"bold","labelFontSize":21,"labelColor":"black","labelOverlap":false,"labelFlush":false,"titleFont":"DejaVu Sans","titleFontWeight":"bold","titleColor":"black"},
 "axisX":{"labelPadding":7.5},
 "axisY":{"labelPadding":6},
 "title":{"anchor":"start","frame":"group","font":"DejaVu Sans","fontWeight":"bold","fontSize":19,"color":"black","baseline":"alphabetic","offset":-2}
}
}
